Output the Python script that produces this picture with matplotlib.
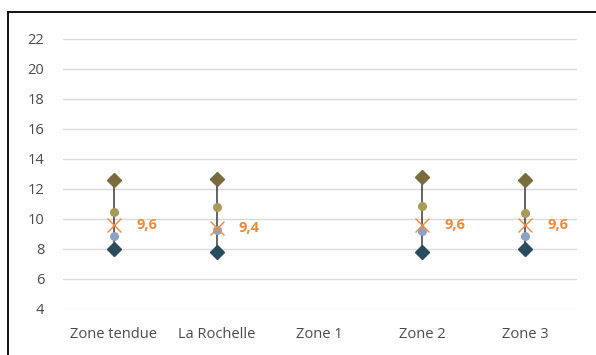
import numpy as np
import matplotlib
matplotlib.use("Agg")
import matplotlib.pyplot as plt
from matplotlib.lines import Line2D

categories = ["Zone tendue", "La Rochelle", "Zone 1", "Zone 2", "Zone 3"]
max_vals = [12.6, 12.7, np.nan, 12.8, 12.6]
min_vals = [8.0, 7.8, np.nan, 7.8, 8.0]
upper_vals = [10.5, 10.8, np.nan, 10.9, 10.4]
lower_vals = [8.9, 9.3, np.nan, 9.2, 8.9]
mean_vals = [9.6, 9.4, np.nan, 9.6, 9.6]
yticks = [4, 6, 8, 10, 12, 14, 16, 18, 20, 22]

W, H = 596, 355
fig = plt.figure(figsize=(W / 100, H / 100), dpi=100)
ax = fig.add_axes([62.5 / W, 1 - 309 / H, (576.5 - 62.5) / W, (309 - 39) / H])

x = np.arange(len(categories))
ax.set_xlim(-0.5, len(categories) - 0.5)
ax.set_ylim(4, 22)

for v in yticks:
    ax.axhline(v, color="#d9d9d9", lw=1.0, zorder=0)

# high-low lines
for xi, lo, hi in zip(x, min_vals, max_vals):
    if np.isnan(lo):
        continue
    ax.plot([xi, xi], [lo, hi], color="#3a3a3a", lw=1.1, zorder=2)

ax.plot(x, max_vals, ls="none", marker="D", ms=7.5, color="#7a6b3c", zorder=3)
ax.plot(x, min_vals, ls="none", marker="D", ms=7.5, color="#2b4c5a", zorder=3)
ax.plot(x, upper_vals, ls="none", marker="o", ms=5.5, color="#a89a58", zorder=4)
ax.plot(x, lower_vals, ls="none", marker="o", ms=5.5, color="#8ea3c4", zorder=4)
ax.plot(x, mean_vals, ls="none", marker="x", ms=10, mew=1.0, color="#f28a3e", zorder=5)

for xi, m in zip(x, mean_vals):
    if np.isnan(m):
        continue
    ax.annotate(f"{m:.1f}".replace(".", ","), (xi, m), xytext=(16, 0),
                textcoords="offset points", va="center", ha="left",
                fontsize=10.5, fontweight="bold", color="#f0883a",
                family="Open Sans")

ax.set_xticks(x)
ax.set_xticklabels(categories, fontsize=10.5, color="#4a4a4a", family="Open Sans")
ax.set_yticks(yticks)
ax.set_yticklabels([str(v) for v in yticks], fontsize=10.5, color="#4a4a4a", family="Open Sans")
ax.tick_params(axis="both", length=0)
ax.tick_params(axis="x", pad=13)
ax.tick_params(axis="y", pad=13)
for s in ax.spines.values():
    s.set_visible(False)

# chart border
fig.add_artist(Line2D([8 / W, 1], [1 - 12 / H, 1 - 12 / H], color="black", lw=1.3,
                      transform=fig.transFigure))
fig.add_artist(Line2D([8 / W, 8 / W], [0, 1 - 12 / H], color="black", lw=1.3,
                      transform=fig.transFigure))

fig.savefig("out.png", dpi=100)
